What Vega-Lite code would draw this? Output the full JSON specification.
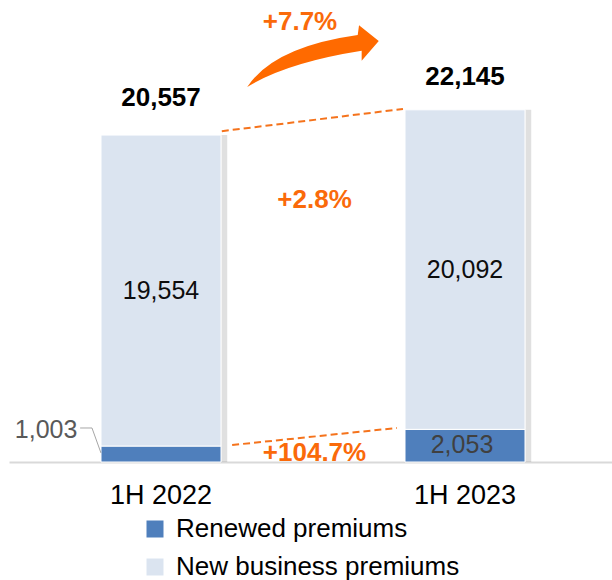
{
  "$schema": "https://vega.github.io/schema/vega-lite/v6.json",
  "width": 608,
  "height": 462,
  "autosize": {"type": "none"},
  "padding": {"left": 9, "top": 0, "right": 0, "bottom": 118},
  "background": "white",
  "config": {
    "view": {"stroke": null},
    "font": "Liberation Sans",
    "text": {"font": "Liberation Sans"}
  },
  "datasets": {
    "bars": [
      {"cat": "1H 2022", "series": "Renewed premiums", "value": 1003, "ord": 1},
      {"cat": "1H 2022", "series": "New business premiums", "value": 19554, "ord": 2},
      {"cat": "1H 2023", "series": "Renewed premiums", "value": 2053, "ord": 1},
      {"cat": "1H 2023", "series": "New business premiums", "value": 20092, "ord": 2}
    ],
    "totals": [
      {"cat": "1H 2022", "total": 20557, "label": "20,557", "ly": 22893},
      {"cat": "1H 2023", "total": 22145, "label": "22,145", "ly": 24214}
    ],
    "inner": [
      {"cat": "1H 2022", "y": 10780, "label": "19,554"},
      {"cat": "1H 2023", "y": 12099, "label": "20,092"}
    ],
    "renew2": [{"cat": "1H 2023", "y": 1040, "label": "2,053"}],
    "renew1": [{"cat": "1H 2022", "y": 2013, "label": "1,003"}],
    "topline": [{"from": "1H 2022", "to": "1H 2023", "y1": 20800, "y2": 22200}],
    "botline": [{"from": "1H 2022", "to": "1H 2023", "y1": 1069, "y2": 2138}],
    "leader": [{"cat": "1H 2022", "y1": 2138, "y2": 566}],
    "growth": [
      {"cat": "1H 2023", "y": 16478, "label": "+2.8%"},
      {"cat": "1H 2023", "y": 566, "label": "+104.7%"}
    ],
    "growthTop": [{"cat": "1H 2023", "y": 27673, "label": "+7.7%"}],
    "arrow": [{"cat": "1H 2023", "y": 25440}]
  },
  "layer": [
    {
      "data": {"name": "totals"},
      "mark": {"type": "rule", "strokeWidth": 6, "color": "#000000", "opacity": 0.12},
      "encoding": {
        "x": {"field": "cat", "type": "nominal", "bandPosition": 0.708, "title": null,
              "scale": {"paddingInner": 0, "paddingOuter": 0},
              "axis": {"labelAngle": 0, "labelFontSize": 27, "labelColor": "#000000", "ticks": false,
                       "domainColor": "#d9d9d9", "domainWidth": 2, "labelPadding": 20, "title": null}},
        "y": {"field": "total", "type": "quantitative", "scale": {"domain": [0, 29050], "nice": false}, "axis": null},
        "y2": {"datum": 0}
      }
    },
    {
      "data": {"name": "bars"},
      "mark": {"type": "bar", "size": 120, "stroke": "white", "strokeWidth": 1},
      "encoding": {
        "x": {"field": "cat", "type": "nominal", "title": null},
        "y": {"field": "value", "type": "quantitative", "stack": "zero", "axis": null},
        "order": {"field": "ord", "type": "quantitative"},
        "color": {"field": "series", "type": "nominal",
                  "scale": {"domain": ["Renewed premiums", "New business premiums"], "range": ["#4f7fbc", "#dbe4f0"]},
                  "legend": {"orient": "none", "legendX": 133, "legendY": 516, "title": null,
                             "symbolType": "square", "symbolSize": 289, "symbolStrokeWidth": 0,
                             "labelFontSize": 26, "labelColor": "#000000", "labelOffset": 8, "labelLimit": 400,
                             "rowPadding": 12, "padding": 0}}
      }
    },
    {
      "data": {"name": "topline"},
      "mark": {"type": "rule", "color": "#f5731c", "strokeWidth": 2, "strokeDash": [7, 4]},
      "encoding": {
        "x": {"field": "from", "type": "nominal", "bandPosition": 0.70, "title": null},
        "x2": {"field": "to", "bandPosition": 0.296},
        "y": {"field": "y1", "type": "quantitative"},
        "y2": {"field": "y2"}
      }
    },
    {
      "data": {"name": "botline"},
      "mark": {"type": "rule", "color": "#f5731c", "strokeWidth": 2, "strokeDash": [7, 4]},
      "encoding": {
        "x": {"field": "from", "type": "nominal", "bandPosition": 0.734, "title": null},
        "x2": {"field": "to", "bandPosition": 0.276},
        "y": {"field": "y1", "type": "quantitative"},
        "y2": {"field": "y2"}
      }
    },
    {
      "data": {"name": "leader"},
      "mark": {"type": "rule", "color": "#a6a6a6", "strokeWidth": 1},
      "encoding": {
        "x": {"field": "cat", "type": "nominal", "bandPosition": 0.234, "title": null},
        "x2": {"field": "cat", "bandPosition": 0.273},
        "y": {"field": "y1", "type": "quantitative"}
      }
    },
    {
      "data": {"name": "leader"},
      "mark": {"type": "rule", "color": "#a6a6a6", "strokeWidth": 1},
      "encoding": {
        "x": {"field": "cat", "type": "nominal", "bandPosition": 0.273, "title": null},
        "x2": {"field": "cat", "bandPosition": 0.3026},
        "y": {"field": "y1", "type": "quantitative"},
        "y2": {"field": "y2"}
      }
    },
    {
      "data": {"name": "arrow"},
      "mark": {"type": "point", "filled": true, "opacity": 1, "color": "#ff6a00", "strokeWidth": 0, "size": 17300,
               "shape": "M-1,0.45 Q-0.6,-0.16 0.68,-0.34 L0.7,-0.49 L1,-0.25 L0.74,0.05 L0.74,-0.1 Q-0.4,0.08 -1,0.45 Z"},
      "encoding": {
        "x": {"field": "cat", "type": "nominal", "bandPosition": 0, "title": null},
        "y": {"field": "y", "type": "quantitative"}
      }
    },
    {
      "data": {"name": "totals"},
      "mark": {"type": "text", "fontSize": 26, "fontWeight": "bold", "color": "#000000", "baseline": "middle"},
      "encoding": {
        "x": {"field": "cat", "type": "nominal", "title": null},
        "y": {"field": "ly", "type": "quantitative"},
        "text": {"field": "label"}
      }
    },
    {
      "data": {"name": "inner"},
      "mark": {"type": "text", "fontSize": 25, "color": "#0d0d0d", "baseline": "middle"},
      "encoding": {
        "x": {"field": "cat", "type": "nominal", "title": null},
        "y": {"field": "y", "type": "quantitative"},
        "text": {"field": "label"}
      }
    },
    {
      "data": {"name": "renew2"},
      "mark": {"type": "text", "fontSize": 25, "color": "#404040", "baseline": "middle", "dx": -3},
      "encoding": {
        "x": {"field": "cat", "type": "nominal", "title": null},
        "y": {"field": "y", "type": "quantitative"},
        "text": {"field": "label"}
      }
    },
    {
      "data": {"name": "renew1"},
      "mark": {"type": "text", "fontSize": 25, "color": "#595959", "baseline": "middle"},
      "encoding": {
        "x": {"field": "cat", "type": "nominal", "bandPosition": 0.122, "title": null},
        "y": {"field": "y", "type": "quantitative"},
        "text": {"field": "label"}
      }
    },
    {
      "data": {"name": "growth"},
      "mark": {"type": "text", "fontSize": 26, "fontWeight": "bold", "color": "#fa6a0a", "baseline": "middle"},
      "encoding": {
        "x": {"field": "cat", "type": "nominal", "bandPosition": 0.005, "title": null},
        "y": {"field": "y", "type": "quantitative"},
        "text": {"field": "label"}
      }
    },
    {
      "data": {"name": "growthTop"},
      "mark": {"type": "text", "fontSize": 26, "fontWeight": "bold", "color": "#fa6a0a", "baseline": "middle", "dx": -13},
      "encoding": {
        "x": {"field": "cat", "type": "nominal", "bandPosition": 0, "title": null},
        "y": {"field": "y", "type": "quantitative"},
        "text": {"field": "label"}
      }
    }
  ]
}
